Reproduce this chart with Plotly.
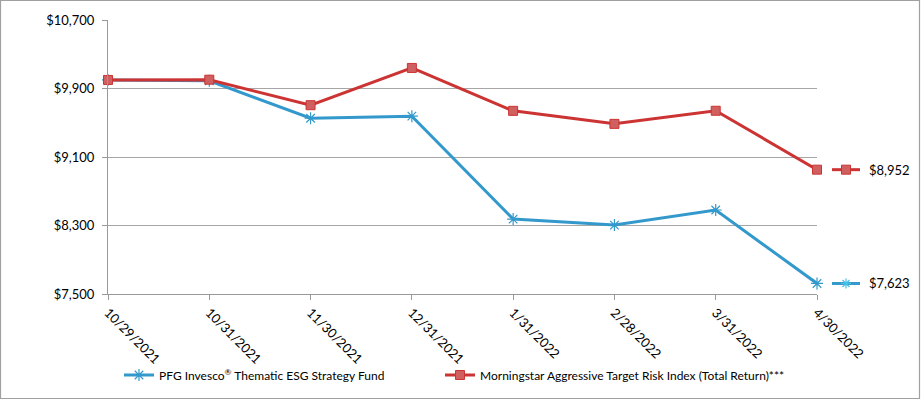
import plotly.graph_objects as go

dates = ["10/29/2021", "10/31/2021", "11/30/2021", "12/31/2021",
         "1/31/2022", "2/28/2022", "3/31/2022", "4/30/2022"]
fund = [10000, 9990, 9553, 9577, 8375, 8305, 8481, 7623]
index = [10000, 10003, 9705, 10140, 9639, 9487, 9640, 8952]
fund_name = "PFG Invesco<sup>®</sup> Thematic ESG Strategy Fund"
index_name = "Morningstar Aggressive Target Risk Index (Total Return)***"
yticks = [7500, 8300, 9100, 9900, 10700]

BLUE = "#3399cc"
BLUE_M = "#45c0e8"
RED = "#cc3333"
RED_M = "#d06060"
FONT = "Lato"

W, H = 921, 400
L, R, T, B = 108, 104, 20, 106
PW = W - L - R
PH = H - T - B


def px_x(p):
    return (p - L) / PW


def px_y(p):
    return (H - B - p) / PH


xs = list(range(len(dates)))
n = len(dates) - 1

fig = go.Figure()
fig.add_trace(go.Scatter(
    x=xs, y=fund, name=fund_name, mode="lines+markers", legend="legend",
    line=dict(color=BLUE, width=3),
    marker=dict(symbol="asterisk-open", size=10, line=dict(color=BLUE_M, width=1.2)),
    cliponaxis=False))
fig.add_trace(go.Scatter(
    x=xs, y=index, name=index_name, mode="lines+markers", legend="legend2",
    line=dict(color=RED, width=3),
    marker=dict(symbol="square", size=9, color=RED_M, line=dict(color=RED, width=1)),
    cliponaxis=False))

# end-of-line labels with mini line samples
ASTER = "M-5,0H5M0,-5V5M-3.5,-3.5L3.5,3.5M-3.5,3.5L3.5,-3.5"
for vals, col, kind in [(fund, BLUE, "aster"), (index, RED, "square")]:
    last = vals[-1]
    fig.add_shape(type="line", xref="paper", yref="y",
                  x0=px_x(832), x1=px_x(860), y0=last, y1=last,
                  line=dict(color=col, width=3))
    if kind == "square":
        fig.add_shape(type="rect", xref="paper", yref="y",
                      xsizemode="pixel", ysizemode="pixel",
                      xanchor=px_x(846), yanchor=last,
                      x0=-4.5, x1=4.5, y0=-4.5, y1=4.5,
                      fillcolor=RED_M, line=dict(color=RED, width=1))
    else:
        fig.add_shape(type="path", xref="paper", yref="y",
                      xsizemode="pixel", ysizemode="pixel",
                      xanchor=px_x(846), yanchor=last, path=ASTER,
                      line=dict(color=BLUE_M, width=1.2))
    fig.add_annotation(x=px_x(867), y=last, xref="paper", yref="y",
                       text="${:,.0f}".format(last), showarrow=False,
                       xanchor="left", yanchor="middle",
                       font=dict(size=13, color="black", family=FONT))

# outer border
fig.add_shape(type="rect", xref="paper", yref="paper",
              x0=px_x(0.5), x1=px_x(919.5), y0=px_y(398.5), y1=px_y(0.5),
              line=dict(color="#a0a0a0", width=1.2), layer="below")

leg_common = dict(orientation="h", xref="container", yref="container",
                  xanchor="left", y=1 - 375 / H, yanchor="middle",
                  font=dict(size=12, family=FONT), bgcolor="rgba(0,0,0,0)")

fig.update_layout(
    width=W, height=H,
    margin=dict(l=L, r=R, t=T, b=B, autoexpand=False),
    paper_bgcolor="white", plot_bgcolor="white",
    font=dict(family=FONT, size=13, color="black"),
    showlegend=True,
    legend=dict(x=119 / W, **leg_common),
    legend2=dict(x=440 / W, **leg_common),
    xaxis=dict(range=[0, n], tickmode="array",
               tickvals=xs, ticktext=dates, automargin=False,
               tickangle=45, showgrid=False, showline=True, linecolor="#999999",
               ticks="outside", ticklen=5, tickcolor="#999999", zeroline=False,
               tickfont=dict(size=13, family=FONT)),
    yaxis=dict(range=[7500, 10700], tickmode="array", tickvals=yticks,
               ticktext=["${:,.0f}".format(v) for v in yticks], automargin=False,
               showgrid=True, gridcolor="#a6a6a6", gridwidth=1,
               showline=True, linecolor="#999999", ticklabelstandoff=5,
               ticks="outside", ticklen=5, tickcolor="#999999", zeroline=False,
               tickfont=dict(size=13, family=FONT)),
)

fig.write_html("out.html", config={"displayModeBar": False},
               post_script="document.body.style.margin='0';")
